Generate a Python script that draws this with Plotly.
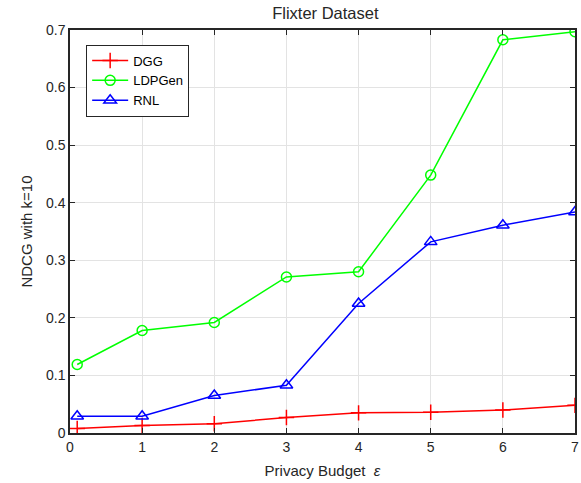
import plotly.graph_objects as go

# Privacy budget values (epsilon)
epsilon = [0.1, 1, 2, 3, 4, 5, 6, 7]

# NDCG@10 per method
ndcg_dgg = [0.008, 0.013, 0.016, 0.027, 0.035, 0.036, 0.040, 0.048]
ndcg_ldpgen = [0.119, 0.178, 0.192, 0.271, 0.280, 0.448, 0.683, 0.697]
ndcg_rnl = [0.029, 0.029, 0.065, 0.083, 0.225, 0.332, 0.361, 0.384]

x_ticks = [0, 1, 2, 3, 4, 5, 6, 7]
y_ticks = [0, 0.1, 0.2, 0.3, 0.4, 0.5, 0.6, 0.7]

FONT = "Liberation Sans, Arial, sans-serif"
TXT = "#262626"

fig = go.Figure()
fig.add_trace(go.Scatter(
    x=epsilon, y=ndcg_dgg, name="DGG", mode="lines+markers",
    line=dict(color="#ff0000", width=1.5),
    marker=dict(symbol="cross-thin-open", size=11,
                line=dict(color="#ff0000", width=1.5)),
))
fig.add_trace(go.Scatter(
    x=epsilon, y=ndcg_ldpgen, name="LDPGen", mode="lines+markers",
    line=dict(color="#00ff00", width=1.5),
    marker=dict(symbol="circle-open", size=10,
                line=dict(color="#00ff00", width=1.5)),
))
fig.add_trace(go.Scatter(
    x=epsilon, y=ndcg_rnl, name="RNL", mode="lines+markers",
    line=dict(color="#0000ff", width=1.5),
    marker=dict(symbol="triangle-up-open", size=11,
                line=dict(color="#0000ff", width=1.5)),
))

axis_common = dict(
    showline=True, linecolor="#262626", linewidth=1.5, mirror="ticks",
    ticks="inside", ticklen=5, tickwidth=1, tickcolor="#262626",
    showgrid=True, gridcolor="#e3e3e3", gridwidth=1,
    zeroline=False, ticklabeloverflow="allow",
    tickfont=dict(family=FONT, size=14, color=TXT),
)

fig.update_layout(
    width=581, height=483,
    margin=dict(l=70, r=2, t=30, b=50),
    paper_bgcolor="white", plot_bgcolor="white",
    font=dict(family=FONT, color=TXT),
    title=dict(text="Flixter Dataset", x=0.56, xanchor="center",
               y=0.984, yanchor="top",
               font=dict(family=FONT, size=16.5, color=TXT)),
    xaxis=dict(axis_common, range=[0, 7], tickvals=x_ticks,
               title=dict(text="Privacy Budget  <i>ε</i>", standoff=12,
                          font=dict(family=FONT, size=15, color=TXT))),
    yaxis=dict(axis_common, range=[0, 0.7], tickvals=y_ticks,
               tickformat=".1~f",
               title=dict(text="NDCG with k=10", standoff=10,
                          font=dict(family=FONT, size=15, color=TXT))),
    legend=dict(x=0.032, y=0.964, xanchor="left", yanchor="top",
                bgcolor="white", bordercolor="#262626", borderwidth=1,
                font=dict(family=FONT, size=13, color="#000000"),
                tracegroupgap=0, itemwidth=36),
    showlegend=True,
)

fig.write_html("out.html")
